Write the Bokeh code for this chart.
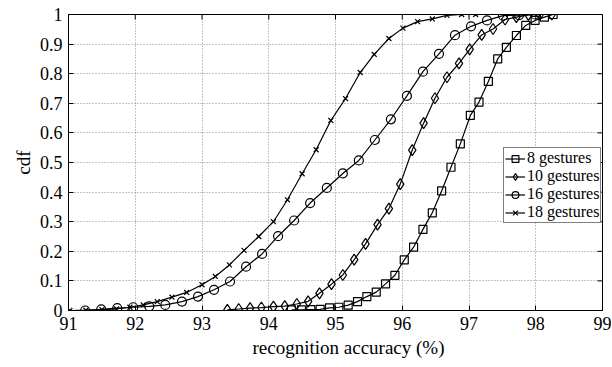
import math
from bokeh.plotting import figure
from bokeh.models import Range1d, FixedTicker, Legend, Title
from bokeh.embed import file_html
from bokeh.resources import INLINE

# ---- data ----
x8 = [94.34, 94.49, 94.63, 94.77, 94.91, 95.05, 95.19, 95.33, 95.47, 95.61, 95.75, 95.89,
      96.03, 96.17, 96.31, 96.45, 96.59, 96.73, 96.87, 97.02, 97.15, 97.29, 97.43, 97.56,
      97.71, 97.85, 97.99, 98.13, 98.26]
y8 = [0.002, 0.002, 0.003, 0.004, 0.009, 0.011, 0.018, 0.030, 0.047, 0.062, 0.090, 0.119,
      0.171, 0.214, 0.274, 0.330, 0.404, 0.484, 0.563, 0.659, 0.704, 0.774, 0.850, 0.889,
      0.929, 0.963, 0.980, 0.991, 1.0]

x10 = [93.38, 93.55, 93.72, 93.89, 94.07, 94.24, 94.42, 94.59, 94.76, 94.94, 95.11, 95.28,
       95.45, 95.63, 95.80, 95.97, 96.15, 96.32, 96.49, 96.67, 96.85, 97.01, 97.19, 97.36,
       97.54, 97.71, 97.89, 98.06, 98.24]
y10 = [0.002, 0.005, 0.008, 0.010, 0.013, 0.015, 0.022, 0.031, 0.058, 0.089, 0.120, 0.172,
       0.225, 0.290, 0.344, 0.427, 0.542, 0.633, 0.717, 0.788, 0.835, 0.882, 0.931, 0.951,
       0.983, 0.991, 0.999, 1.0, 1.0]

x16 = [91.25, 91.49, 91.73, 91.97, 92.21, 92.45, 92.70, 92.94, 93.18, 93.42, 93.66, 93.90,
       94.14, 94.38, 94.62, 94.87, 95.11, 95.35, 95.59, 95.83, 96.07, 96.31, 96.55, 96.79,
       97.03, 97.27, 97.51, 97.75, 97.99]
y16 = [0.0, 0.004, 0.008, 0.011, 0.014, 0.019, 0.030, 0.047, 0.070, 0.098, 0.148, 0.191,
       0.251, 0.304, 0.363, 0.414, 0.463, 0.507, 0.576, 0.646, 0.725, 0.807, 0.867, 0.930,
       0.960, 0.980, 0.996, 0.998, 1.0]

x18 = [91.02, 91.26, 91.50, 91.72, 91.92, 92.12, 92.33, 92.55, 92.77, 93.00, 93.20, 93.41,
       93.63, 93.85, 94.07, 94.28, 94.50, 94.71, 94.93, 95.15, 95.37, 95.58, 95.80, 96.01,
       96.23, 96.45, 96.67, 96.89, 97.10]
y18 = [0.0, 0.001, 0.003, 0.005, 0.011, 0.019, 0.030, 0.045, 0.061, 0.087, 0.115, 0.154,
       0.203, 0.250, 0.300, 0.374, 0.462, 0.543, 0.642, 0.716, 0.804, 0.865, 0.919, 0.954,
       0.976, 0.985, 0.997, 1.0, 1.0]

labels = ["8 gestures", "10 gestures", "16 gestures", "18 gestures"]
x_ticks = [91, 92, 93, 94, 95, 96, 97, 98, 99]
y_ticks = [0, 0.1, 0.2, 0.3, 0.4, 0.5, 0.6, 0.7, 0.8, 0.9, 1.0]
y_tick_labels = ["0", "0.1", "0.2", "0.3", "0.4", "0.5", "0.6", "0.7", "0.8", "0.9", "1"]
x_title = "recognition accuracy (%)"
y_title = "cdf"

FONT = "Liberation Serif"
X0, X1, Y0, Y1 = 91, 99, 0, 1

p = figure(width=611, height=366, output_backend="svg", toolbar_location=None,
           x_range=Range1d(X0, X1), y_range=Range1d(Y0, Y1),
           min_border_left=68, min_border_right=9, min_border_top=14, min_border_bottom=56,
           background_fill_color="white", border_fill_color="white")

p.outline_line_color = "black"
p.outline_line_width = 1

# grid
for g in (p.xgrid, p.ygrid):
    g.grid_line_color = "#8a8a8a"
    g.grid_line_dash = "1 2"
    g.grid_line_width = 1
p.xgrid.ticker = FixedTicker(ticks=x_ticks)
p.ygrid.ticker = FixedTicker(ticks=y_ticks)

# axes
p.xaxis.ticker = FixedTicker(ticks=x_ticks)
p.yaxis.ticker = FixedTicker(ticks=y_ticks)
p.yaxis.major_label_overrides = {t: s for t, s in zip(y_ticks, y_tick_labels)}
for ax in (p.xaxis[0], p.yaxis[0]):
    ax.major_tick_in = 5
    ax.major_tick_out = 0
    ax.minor_tick_in = 0
    ax.minor_tick_out = 0
    ax.axis_line_color = "black"
    ax.major_tick_line_color = "black"
    ax.major_label_text_font = FONT
    ax.major_label_text_font_size = "18px"
    ax.major_label_text_color = "black"
    ax.axis_label_text_font = FONT
    ax.axis_label_text_font_size = "19px"
    ax.axis_label_text_font_style = "normal"
    ax.axis_label_text_color = "black"
p.xaxis.major_label_standoff = 6
p.yaxis.major_label_standoff = 6
p.yaxis.axis_label = y_title
p.yaxis.axis_label_standoff = 3

# x title, offset to the right as in the reference
p.add_layout(Title(text=x_title, align="left", offset=184, text_font=FONT,
                   text_font_size="19px", text_font_style="normal", text_color="black",
                   standoff=5), "below")

# inward ticks on top and right edges (box style)
p.ray(x=x_ticks, y=[Y1] * len(x_ticks), length=5, length_units="screen",
      angle=-math.pi / 2, line_color="black", line_width=1)
p.ray(x=[X1] * len(y_ticks), y=y_ticks, length=5, length_units="screen",
      angle=math.pi, line_color="black", line_width=1)

series = [(x8, y8, "square", 8), (x10, y10, "diamond", 11),
          (x16, y16, "circle", 9), (x18, y18, "x", 7)]

items = []
for (xs, ys, mk, sz), lab in zip(series, labels):
    r1 = p.line(xs, ys, line_color="black", line_width=1.2)
    r2 = p.scatter(xs, ys, marker=mk, size=sz, line_color="black", line_width=1.2,
                   fill_color=None)
    items.append((lab, [r1, r2]))

legend = Legend(items=items, location=(435, 87))
legend.label_text_font = FONT
legend.label_text_font_size = "16px"
legend.label_text_color = "black"
legend.label_height = 17
legend.label_standoff = 2
legend.glyph_width = 20
legend.glyph_height = 17
legend.spacing = 0
legend.padding = 1
legend.margin = 0
legend.border_line_color = "black"
legend.border_line_width = 1
legend.background_fill_color = "white"
legend.background_fill_alpha = 1
p.add_layout(legend, "center")

open("out.html", "w").write(file_html(p, INLINE))
